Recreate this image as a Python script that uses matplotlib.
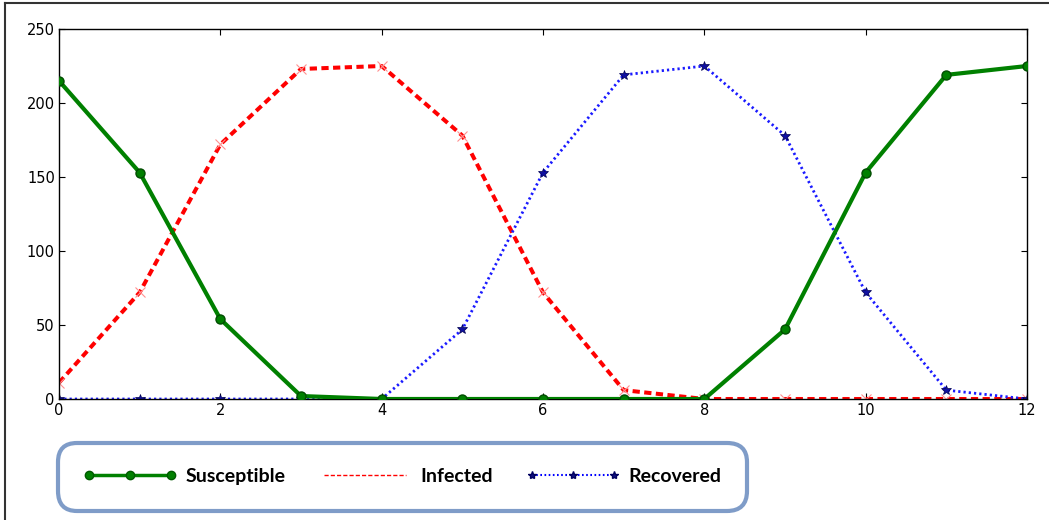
import numpy as np
import matplotlib
matplotlib.use('Agg')
import matplotlib.pyplot as plt
from matplotlib.lines import Line2D

# шаги по оси x
steps = np.arange(0, 13)
# значения по группам
susceptible = [215, 153, 54, 2, 0, 0, 0, 0, 0, 47, 153, 219, 225]
infected = [11, 72, 172, 223, 225, 178, 72, 6, 0, 0, 0, 0, 0]
recovered = [0, 0, 0, 0, 0, 47, 153, 219, 225, 178, 72, 6, 0]
labels = ['Susceptible', 'Infected', 'Recovered']

W, H = 1049, 520
fig = plt.figure(figsize=(W / 100, H / 100), dpi=100)
ax = fig.add_axes([59 / W, 1 - 399 / H, (1027 - 59) / W, (399 - 29) / H])

ax.plot(steps, susceptible, color=(0, 0.5, 0), lw=3, marker='o', ms=6.5,
        mfc=(0, 0.5, 0), mec=(0, 0.3, 0), zorder=3)
ax.plot(steps, infected, color='red', lw=2.9, ls=(0, (1.8, 1.1)), marker='x',
        ms=7, mec='#ff9090', mew=0.8, zorder=2)
ax.plot(steps, recovered, color='#1a1aff', lw=2.0, ls=(0, (0.8, 1.1)), marker='*',
        ms=7, mfc='#1010a0', mec='#000050', mew=0.5, zorder=2)

ax.set_xlim(0, 12)
ax.set_ylim(0, 250)
ax.set_xticks(range(0, 13, 2))
ax.set_yticks(range(0, 251, 50))
ax.tick_params(direction='in', top=True, right=True, length=4, labelsize=10.5,
               pad=3, colors='black')
for s in ax.spines.values():
    s.set_linewidth(1)

# подписи легенды — тонкие линии
handles = [
    Line2D([], [], color=(0, 0.5, 0), lw=2.5, marker='o', ms=6, mec=(0, 0.35, 0)),
    Line2D([], [], color='red', lw=1, ls=(0, (3, 1.5))),
    Line2D([], [], color='blue', lw=1.5, ls=(0, (0.8, 1.2)), marker='*', ms=6,
           mfc='#101080', mec='#000060'),
]
leg = fig.legend(handles, labels, loc='upper left', ncol=3,
                 bbox_to_anchor=(58 / W, 1 - 443 / H),
                 prop={'family': ['Lato', 'DejaVu Sans'], 'weight': 'bold', 'size': 14},
                 handlelength=4.8, handletextpad=0.45, columnspacing=1.7,
                 borderpad=1.3, borderaxespad=0, numpoints=3, fancybox=True,
                 framealpha=1)
frame = leg.get_frame()
frame.set_edgecolor('#7f9cc8')
frame.set_linewidth(3)
frame.set_boxstyle('round', pad=0, rounding_size=1.0)

# рамка вокруг картинки слева и сверху
fig.add_artist(Line2D([5 / W, 5 / W], [0, 1 - 3 / H], color='#333333', lw=1.5))
fig.add_artist(Line2D([5 / W, 1], [1 - 3 / H, 1 - 3 / H], color='#333333', lw=1.5))

fig.savefig('out.png', dpi=100)
